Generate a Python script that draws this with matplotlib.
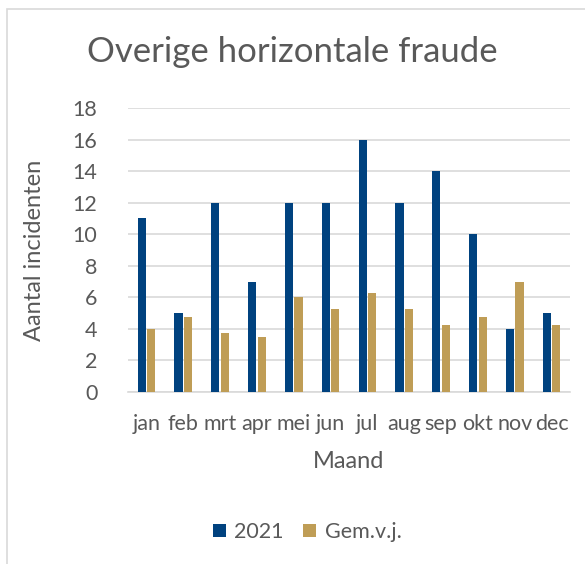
import matplotlib
matplotlib.use("Agg")
import matplotlib.pyplot as plt
from matplotlib.patches import Rectangle
import numpy as np

months = ["jan", "feb", "mrt", "apr", "mei", "jun", "jul", "aug", "sep", "okt", "nov", "dec"]
vals_2021 = [11, 5, 12, 7, 12, 12, 16, 12, 14, 10, 4, 5]
vals_gem = [4, 4.75, 3.75, 3.5, 6, 5.25, 6.25, 5.25, 4.25, 4.75, 7, 4.25]
yticks = [0, 2, 4, 6, 8, 10, 12, 14, 16, 18]

BLUE = "#00427F"
GOLD = "#BF9D56"
TEXT = "#595959"
GRID = "#D9D9D9"

plt.rcParams["font.family"] = ["Lato", "DejaVu Sans"]

fig = plt.figure(figsize=(5.85, 5.64), dpi=100)
# chart frame
fig.patches.append(Rectangle((7 / 585, -0.1), 1.2, 1 - 9 / 564 + 0.1,
                             transform=fig.transFigure, fill=False,
                             edgecolor=GRID, linewidth=1.2))

ax = fig.add_axes([128 / 585, (564 - 392) / 564, (570 - 128) / 585, (392 - 108) / 564])
x = np.arange(len(months))
w = 0.22
ax.bar(x - w / 2 - 0.02, vals_2021, w, color=BLUE, label="2021", zorder=3)
ax.bar(x + w / 2 + 0.02, vals_gem, w, color=GOLD, label="Gem.v.j.", zorder=3)

ax.set_xlim(-0.5, len(months) - 0.5)
ax.set_ylim(0, 18)
ax.set_yticks(yticks)
ax.set_xticks(x)
ax.set_xticklabels(months)
ax.yaxis.grid(True, color=GRID, linewidth=1.2, zorder=0)
for s in ["top", "right", "left"]:
    ax.spines[s].set_visible(False)
ax.spines["bottom"].set_color(GRID)
ax.spines["bottom"].set_linewidth(1.2)
ax.tick_params(axis="both", length=0, labelsize=15.5, colors=TEXT)
ax.tick_params(axis="x", pad=16)
ax.tick_params(axis="y", pad=22)

ax.set_xlabel("Maand", fontsize=17, color=TEXT, labelpad=12)
ax.set_ylabel("Aantal incidenten", fontsize=17, color=TEXT, labelpad=20)

fig.text(0.5, 1 - 52 / 564, "Overige horizontale fraude", ha="center", va="center",
         fontsize=25, color=TEXT)

fig.legend(loc="center", bbox_to_anchor=(0.525, 1 - 532 / 564), ncol=2, frameon=False,
           fontsize=15.5, labelcolor=TEXT, handlelength=0.6, handleheight=0.6,
           columnspacing=0.9, handletextpad=0.4)

fig.savefig("out.png", dpi=100)
